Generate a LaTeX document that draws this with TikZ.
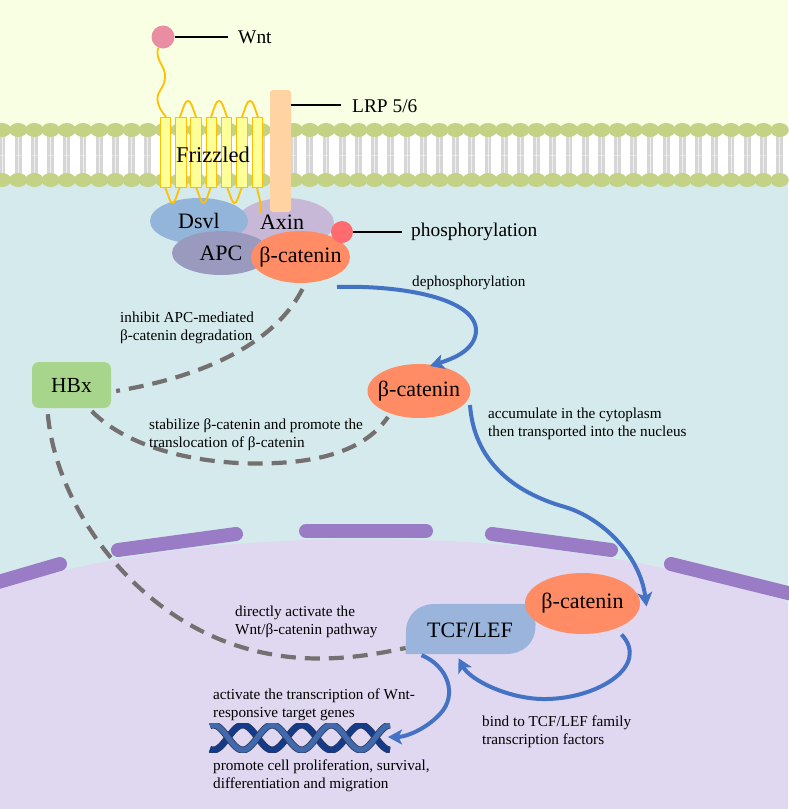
\documentclass[tikz,border=0pt]{standalone}
\usepackage{fontspec}
\setmainfont{Liberation Serif}
\usetikzlibrary{shapes.geometric,arrows.meta,calc}
\definecolor{extrabg}{HTML}{F8FFE2}
\definecolor{cytobg}{HTML}{D5EAEC}
\definecolor{nucbg}{HTML}{E0D8F0}
\definecolor{envelope}{HTML}{9A7CC6}
\definecolor{headgreen}{HTML}{C4D285}
\definecolor{tailgrey}{HTML}{D6D6D6}
\definecolor{coilorange}{HTML}{FFC000}
\definecolor{helixyellow}{HTML}{FFFF99}
\definecolor{ligandpink}{HTML}{E98DA2}
\definecolor{lrporange}{HTML}{FFD3A2}
\definecolor{dsvlblue}{HTML}{93B5D9}
\definecolor{axinmauve}{HTML}{C8B8D8}
\definecolor{apcviolet}{HTML}{9A9ABF}
\definecolor{catenin}{HTML}{FF8C64}
\definecolor{phosred}{HTML}{FF6B6F}
\definecolor{hbxgreen}{HTML}{A8D58C}
\definecolor{tcfblue}{HTML}{9AB4DC}
\definecolor{flowblue}{HTML}{4472C4}
\definecolor{dashgrey}{HTML}{757070}
\definecolor{ribbonlight}{HTML}{4169AE}
\definecolor{ribbondark}{HTML}{143A8C}
\definecolor{ribbonedge}{HTML}{2E3A55}
\tikzset{
  blob/.style={ellipse,inner xsep=-30pt,inner ysep=-12pt,font=\fontsize{22}{24}\selectfont},
  small/.style={anchor=west,align=left,inner sep=0pt,font=\fontsize{15.2}{18}\selectfont},
  tag/.style={anchor=west,inner sep=0pt,font=\fontsize{19.4}{22}\selectfont},
  flow/.style={draw=flowblue,line width=4pt,-{Stealth[length=14pt,width=15pt,inset=3.5pt]}},
  effect/.style={draw=dashgrey,line width=4.2pt,dash pattern=on 15pt off 9pt},
  leader/.style={draw=black,line width=2pt},
  coil/.style={draw=coilorange,line width=1.8pt},
  helix/.style={fill=helixyellow,draw=coilorange,line width=1pt},
  segment/.style={draw=envelope,line width=14pt,line cap=round}
}
\begin{document}
\begin{tikzpicture}[x=1pt,y=-1pt]
\useasboundingbox (0,0) rectangle (788,809);

% compartments
\fill[extrabg] (0,0) rectangle (788,135);
\fill[cytobg] (0,175) rectangle (788,809);
\fill[white] (0,130) rectangle (788,180);
\fill[nucbg] (0,589) .. controls (110,552) and (240,539) .. (365,539)
  .. controls (490,539) and (640,552) .. (788,602) -- (788,809) -- (0,809) -- cycle;

% nuclear envelope
\draw[segment] (-12,585) -- (60,564);
\draw[segment] (118,550) -- (236,534);
\draw[segment] (306,531) -- (426,531);
\draw[segment] (492,534) -- (611,550);
\draw[segment] (671,564) -- (800,596);

% lipid bilayer
\foreach \k in {0,...,48}{
  \pgfmathsetmacro{\px}{2+16.2*\k}
  \fill[tailgrey] (\px-3.4,134) rectangle (\px+3.4,176);
  \fill[white!60!tailgrey] (\px-0.5,134) rectangle (\px+0.5,176);
}
\fill[white,opacity=.35] (0,154.5) rectangle (788,155.5);
\foreach \k in {0,...,48}{
  \pgfmathsetmacro{\px}{2+16.2*\k}
  \fill[headgreen] (\px,130) ellipse [x radius=9.2pt,y radius=7pt];
  \fill[headgreen] (\px,180) ellipse [x radius=9.2pt,y radius=7pt];
}

% complex behind the receptor
\node[blob,fill=axinmauve,minimum width=98pt,minimum height=50pt] (axin) at (285,223) {};
\node[blob,fill=dsvlblue,minimum width=98pt,minimum height=46pt] (dsvl) at (199,221) {Dsvl};
\node[anchor=center,inner sep=0pt,font=\fontsize{22}{24}\selectfont] (axinlabel) at (282,222) {Axin};

% Wnt ligand and Frizzled loops
\node[circle,fill=ligandpink,minimum size=23pt,inner sep=0pt] (wnt) at (163,37) {};
\draw[coil] (158,48) .. controls (155,62) and (166,65) .. (165,78)
  .. controls (164,90) and (155,92) .. (158,103) .. controls (160,110) and (163,113) .. (166,117);
\foreach \xa/\xb in {180/196,211/227,242/258}{
  \draw[coil] (\xa,117) .. controls (\xa+4,106) and (\xa+5,101) .. ({(\xa+\xb)/2},101)
    .. controls (\xb-5,101) and (\xb-4,106) .. (\xb,117);
}
\foreach \xa/\xb in {165/180,196/211,227/242}{
  \draw[coil] (\xa,187) .. controls (\xa+4,197) and (\xa+5,203) .. ({(\xa+\xb)/2},203)
    .. controls (\xb-5,203) and (\xb-4,197) .. (\xb,187);
}
\draw[coil] (257,187) .. controls (258,196) and (261,198) .. (261,213);

% Frizzled helices and LRP
\foreach \x in {160,175.4,190.7,206,221.3,236.7,252}{
  \fill[helix] (\x,117) rectangle (\x+10.6,187);
}
\node[inner sep=0pt,font=\fontsize{22.5}{24}\selectfont] (frizzled) at (213,155) {Frizzled};
\node[fill=lrporange,rounded corners=3pt,minimum width=21pt,minimum height=122pt,inner sep=0pt] (lrp) at (280.5,151) {};

% destruction complex
\node[blob,fill=apcviolet,minimum width=98pt,minimum height=44pt] (apc) at (221,253) {APC};
\node[blob,fill=catenin,minimum width=99pt,minimum height=52pt] (cat1) at (300.5,257) {β-catenin};
\node[circle,fill=phosred,minimum size=22pt,inner sep=0pt] (phos) at (342,232) {};

% leader lines and their labels
\node[tag] (wntlabel) at (238,37) {Wnt};
\node[tag] (lrplabel) at (352,106) {LRP 5/6};
\node[tag] (phoslabel) at (411,232) {phosphorylation};
\draw[leader] (wnt) -- ($(wntlabel.west)+(-10,0)$);
\draw[leader] ($(lrp.east)+(0,-46)$) -- ($(lrplabel.west)+(-11,-1)$);
\draw[leader] (phos) -- ($(phoslabel.west)+(-9,0)$);

% other molecules
\node[fill=hbxgreen,rounded corners=7pt,minimum width=79pt,minimum height=46pt,inner sep=0pt,font=\fontsize{21.5}{24}\selectfont] (hbx) at (71.5,385) {HBx};
\node[blob,fill=catenin,minimum width=103pt,minimum height=54pt] (cat2) at (419,391) {β-catenin};
\node[minimum width=129.5pt,minimum height=50pt,inner sep=0pt] (tcf) at (470.5,629) {};
\fill[tcfblue] (tcf.south west) -- (406,632) .. controls (406,615) and (418,604) .. (435,604)
  -- (tcf.north east) -- (535.5,626) .. controls (535.5,643) and (523,654) .. (506,654) -- cycle;
\node[inner sep=0pt,font=\fontsize{22}{24}\selectfont] (tcflabel) at (470,630) {TCF/LEF};
\node[blob,fill=catenin,minimum width=115pt,minimum height=61pt] (cat3) at (582.5,603.5) {β-catenin};

% double helix of the target genes
\begin{scope}
  \clip (208,723.5) rectangle (392,752);
  \draw[line width=7pt,draw=ribbonedge]
    plot[domain=210:390,samples=120,smooth] (\x,{737.5-12.5*sin(6.1*(\x-228))});
  \draw[line width=5.4pt,draw=ribbondark]
    plot[domain=210:390,samples=120,smooth] (\x,{737.5-12.5*sin(6.1*(\x-228))});
  \draw[line width=7pt,draw=ribbonedge]
    plot[domain=210:390,samples=120,smooth] (\x,{737.5+12.5*sin(6.1*(\x-228))});
  \draw[line width=5.4pt,draw=ribbonlight]
    plot[domain=210:390,samples=120,smooth] (\x,{737.5+12.5*sin(6.1*(\x-228))});
\end{scope}

% signalling flow
\draw[flow] ($(cat1)+(36.5,30)$) .. controls (400,285) and (478,298) .. (476,332)
  .. controls (474,350) and (455,358) .. ($(cat2)+(11,-25)$);
\draw[flow] ($(cat2)+(51,14)$) .. controls (474,460) and (512,492) .. (565,507)
  .. controls (602,518) and (640,555) .. ($(cat3)+(64,3)$);
\draw[flow] ($(cat3)+(39,31)$) .. controls (650,665) and (600,698) .. (547,699)
  .. controls (510,700) and (470,680) .. ($(tcf.south west)+(53,4)$);
\draw[flow] ($(tcf.south west)+(16,1)$) .. controls (448,666) and (458,695) .. (440,714)
  .. controls (425,730) and (405,737) .. (388,737);

% effects of HBx
\draw[effect] ($(cat1)+(2,32)$) .. controls (272,348) and (195,378) .. ($(hbx.east)+(5,6)$);
\draw[effect] ($(hbx.south west)+(60,3)$) .. controls (135,455) and (225,470) .. (300,461)
  .. controls (345,455) and (372,440) .. ($(cat2)+(-31,26)$);
\draw[effect] ($(hbx.south west)+(16,6)$) .. controls (56,505) and (130,610) .. (235,645)
  .. controls (295,665) and (350,660) .. (tcf.west |- 0,648);

% annotations
\node[small] (t1) at (120,328) {inhibit APC-mediated\\β-catenin degradation};
\node[small] (t2) at (412,283) {dephosphorylation};
\node[small] (t3) at (149,434.5) {stabilize β-catenin and promote the\\translocation of β-catenin};
\node[small] (t4) at (488,424) {accumulate in the cytoplasm\\then transported into the nucleus};
\node[small] (t5) at (235,621.5) {directly activate the\\Wnt/β-catenin pathway};
\node[small] (t6) at (213,704.5) {activate the transcription of Wnt-\\responsive target genes};
\node[small] (t7) at (213,775.5) {promote cell proliferation, survival,\\differentiation and migration};
\node[small] (t8) at (482,731.5) {bind to TCF/LEF family\\transcription factors};
\end{tikzpicture}
\end{document}
